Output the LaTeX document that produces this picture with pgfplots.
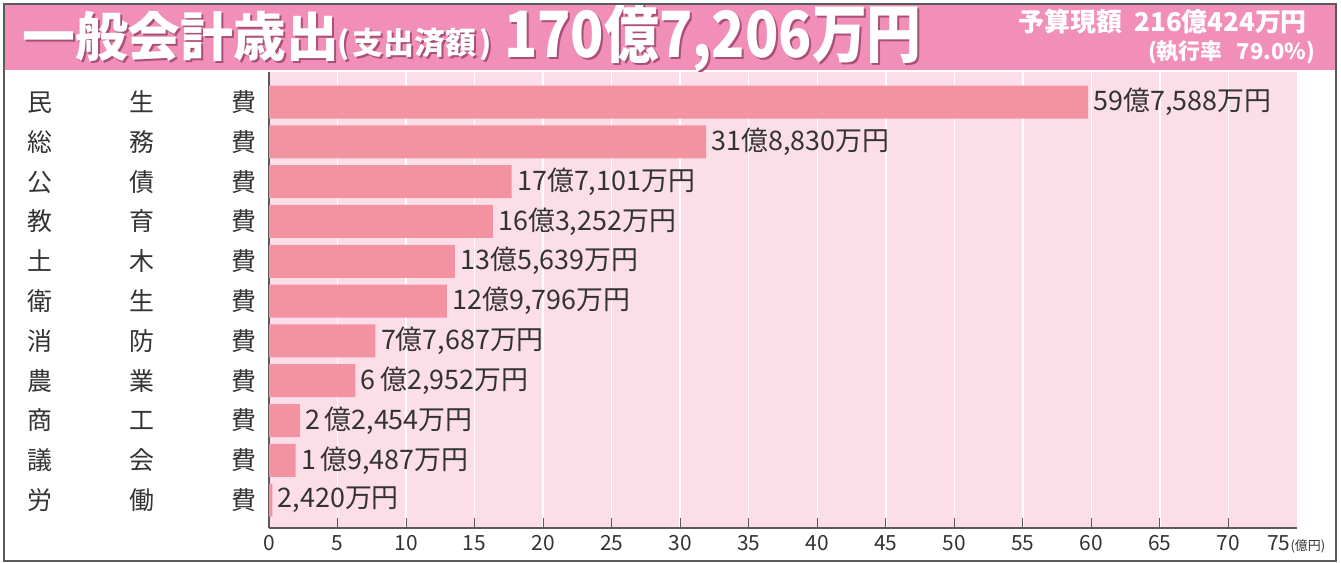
\documentclass[border=0pt]{standalone}
\usepackage{fontspec}
\setmainfont{Noto Sans CJK JP}
\usepackage{graphicx}
\usepackage{pgfplots}
\pgfplotsset{compat=1.18}
\definecolor{hdr}{RGB}{241,143,185}
\definecolor{barc}{RGB}{243,146,160}
\definecolor{bgp}{RGB}{252,222,232}
\definecolor{txt}{RGB}{51,51,51}
\definecolor{frm}{RGB}{90,90,90}
\definecolor{shd}{RGB}{170,80,120}
\newcommand\cat[3]{\hbox to 229bp{#1\hfill#2\hfill#3}}
\newcommand\fs[1]{\fontsize{#1}{#1}\selectfont}
\begin{document}
\begin{tikzpicture}[x=1bp,y=1bp]
\useasboundingbox (0,0) rectangle (1341,563);
\fill[white] (0,0) rectangle (1341,563);
\fill[hdr] (4,493) rectangle (1336,559);
% header title with shadow
\foreach \dx/\dy/\c in {2/-2/shd,0/0/white}{
  \node[anchor=base west, inner sep=0, text=\c, font=\bfseries\fs{53}] at (22+\dx,506+\dy) {一般会計歳出};
  \node[anchor=base west, inner sep=0, text=\c, font=\bfseries\fs{31}] at (337+\dx,508+\dy) {(\kern3bp 支出済額\kern3bp)};
  \node[anchor=base west, inner sep=0, text=\c, font=\bfseries\fs{64}] at (504+\dx,505+\dy) {\scalebox{0.86}[1]{170億7,206万円}};
}
\node[anchor=base east, inner sep=0, text=white, font=\bfseries\fs{26}] at (1307,531) {予算現額\hspace{12bp}216億424万円};
\node[anchor=base east, inner sep=0, text=white, font=\bfseries\fs{22}] at (1315,503) {(執行率\hspace{14bp}79.0\%)};
\draw[frm, line width=1.5bp] (4,2) rectangle (1336,559);
\begin{axis}[at={(269bp,35bp)}, anchor=south west, scale only axis,
  width=1028bp, height=456bp,
  xbar, bar width=33bp,
  xmin=0, xmax=75, ymin=-0.754, ymax=10.70, y dir=reverse,
  axis x line=bottom, axis y line=left,
  axis line style={-, frm, line width=1.2bp},
  axis background/.style={fill=bgp},
  xtick={0,5,...,70},
  xticklabels={0,5,10,15,20,25,30,35,40,45,50,55,60,65,70},
  extra x ticks={75}, extra x tick labels={75\rlap{\fs{13}(億円)}},
  extra x tick style={major tick length=0pt, grid=none, xticklabel style={xshift=-18bp}},
  xticklabel style={font=\fs{21}, text=txt, yshift=-4bp},
  x tick style={frm, line width=1bp},
  tick align=inside, major tick length=10bp,
  ytick={0,...,10},
  yticklabels={\cat{民}{生}{費},\cat{総}{務}{費},\cat{公}{債}{費},\cat{教}{育}{費},\cat{土}{木}{費},\cat{衛}{生}{費},\cat{消}{防}{費},\cat{農}{業}{費},\cat{商}{工}{費},\cat{議}{会}{費},\cat{労}{働}{費}},
  yticklabel style={anchor=east, inner sep=0pt, xshift=-12bp, font=\fs{25}, text=txt},
  y tick style={draw=none},
  xmajorgrids, grid style={white, line width=1.5bp},
  nodes near coords, point meta=explicit symbolic,
  every node near coord/.append style={font=\fs{27}, text=txt, anchor=west, xshift=2bp},
]
\addplot[fill=barc, draw=none] coordinates {
  (59.7588,0) [59億7,588万円]
  (31.8830,1) [31億8,830万円]
  (17.7101,2) [17億7,101万円]
  (16.3252,3) [16億3,252万円]
  (13.5639,4) [13億5,639万円]
  (12.9796,5) [12億9,796万円]
  (7.7687,6) [7億7,687万円]
  (6.2952,7) [6\,億2,952万円]
  (2.2454,8) [2\,億2,454万円]
  (1.9487,9) [1\,億9,487万円]
  (0.2420,10) [2,420万円]
};
\end{axis}
\end{tikzpicture}
\end{document}
